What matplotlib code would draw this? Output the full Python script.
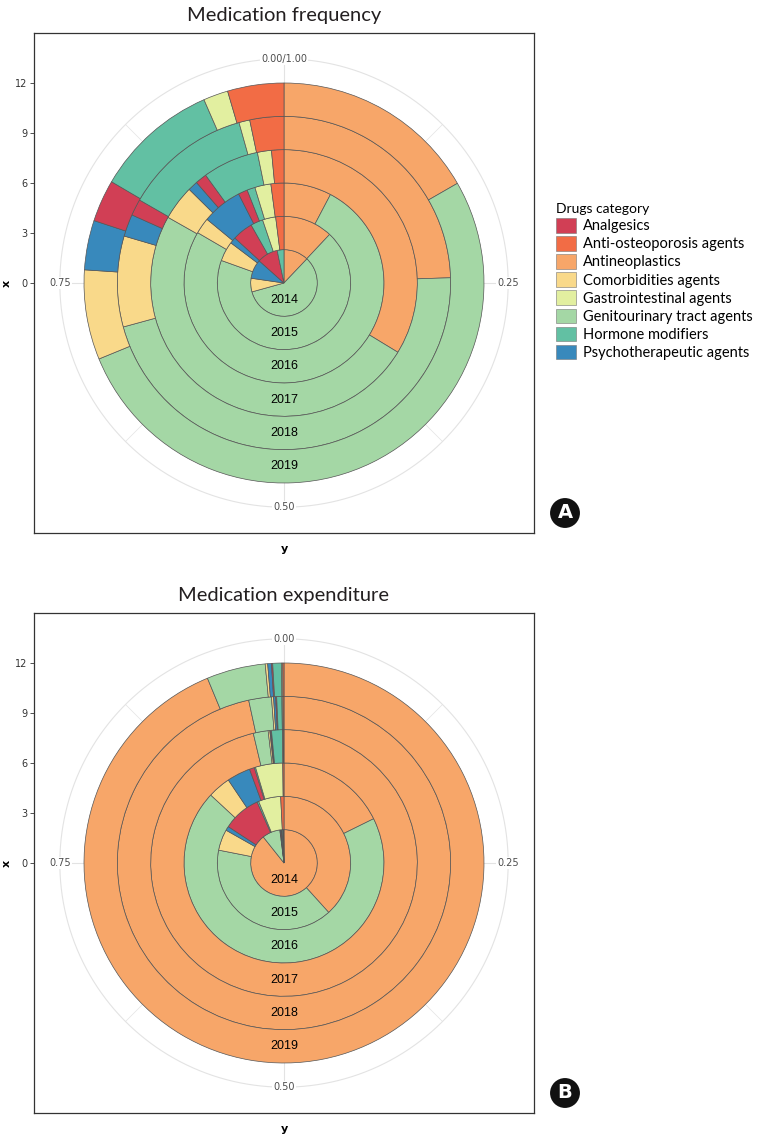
import numpy as np
import matplotlib
matplotlib.use('Agg')
import matplotlib.pyplot as plt
from matplotlib.patches import Patch

# Años (anillos, de dentro hacia fuera)
years = ['2014', '2015', '2016', '2017', '2018', '2019']

# Categorías de la leyenda (orden alfabético)
categories = ['Analgesics', 'Anti-osteoporosis agents', 'Antineoplastics',
              'Comorbidities agents', 'Gastrointestinal agents',
              'Genitourinary tract agents', 'Hormone modifiers',
              'Psychotherapeutic agents']
colors = ['#D13F55', '#F26C45', '#F7A669', '#F9D98A', '#E2EFA0',
          '#A4D7A5', '#62C0A3', '#3889BC']

# Orden de apilado en sentido horario desde arriba
stack_order = ['Antineoplastics', 'Genitourinary tract agents',
               'Comorbidities agents', 'Psychotherapeutic agents',
               'Analgesics', 'Hormone modifiers', 'Gastrointestinal agents',
               'Anti-osteoporosis agents']

# Proporciones por año - frecuencia (panel A)
freq_antineoplastics = [0.121, 0.120, 0.077, 0.337, 0.245, 0.167]
freq_genitourinary = [0.586, 0.685, 0.757, 0.495, 0.4625, 0.521]
freq_comorbidities = [0.066, 0.048, 0.026, 0.042, 0.088, 0.0725]
freq_psychotherapeutic = [0.093, 0.015, 0.065, 0.012, 0.0215, 0.040]
freq_analgesics = [0.101, 0.050, 0.015, 0.014, 0.016, 0.034]
freq_hormone = [0.033, 0.030, 0.013, 0.068, 0.1235, 0.100]
freq_gastro = [0.0, 0.032, 0.026, 0.017, 0.0105, 0.020]
freq_antiosteo = [0.0, 0.020, 0.021, 0.015, 0.033, 0.0455]

# Proporciones por año - gasto (panel B)
exp_antineoplastics = [0.893, 0.383, 0.177, 0.963, 0.966, 0.9375]
exp_genitourinary = [0.087, 0.398, 0.692, 0.018, 0.022, 0.0475]
exp_comorbidities = [0.003, 0.051, 0.037, 0.002, 0.002, 0.002]
exp_psychotherapeutic = [0.004, 0.010, 0.038, 0.001, 0.002, 0.003]
exp_analgesics = [0.003, 0.092, 0.008, 0.001, 0.001, 0.001]
exp_hormone = [0.005, 0.004, 0.002, 0.013, 0.005, 0.007]
exp_gastro = [0.003, 0.054, 0.044, 0.001, 0.001, 0.001]
exp_antiosteo = [0.002, 0.008, 0.002, 0.001, 0.001, 0.001]

freq = {'Antineoplastics': freq_antineoplastics,
        'Genitourinary tract agents': freq_genitourinary,
        'Comorbidities agents': freq_comorbidities,
        'Psychotherapeutic agents': freq_psychotherapeutic,
        'Analgesics': freq_analgesics,
        'Hormone modifiers': freq_hormone,
        'Gastrointestinal agents': freq_gastro,
        'Anti-osteoporosis agents': freq_antiosteo}
expend = {'Antineoplastics': exp_antineoplastics,
          'Genitourinary tract agents': exp_genitourinary,
          'Comorbidities agents': exp_comorbidities,
          'Psychotherapeutic agents': exp_psychotherapeutic,
          'Analgesics': exp_analgesics,
          'Hormone modifiers': exp_hormone,
          'Gastrointestinal agents': exp_gastro,
          'Anti-osteoporosis agents': exp_antiosteo}

theta_ticks = [0.0, 0.25, 0.5, 0.75]
r_ticks = [0, 3, 6, 9, 12]

W, H = 770, 1144
fig = plt.figure(figsize=(W / 100, H / 100), dpi=100)
color_of = dict(zip(categories, colors))
grid_col = '#e3e3e3'
R_LIM = 15
R_LAB = 13.45


def px_rect(x0, y0, w, h):
    # rectángulo en píxeles (desde arriba) -> fracción de figura
    return [x0 / W, 1 - (y0 + h) / H, w / W, h / H]


def draw_panel(data, top_y, title, top_label, badge):
    rect = px_rect(34, top_y, 500, 500)

    # Marco cartesiano con el eje "x" (radio) a la izquierda
    frame = fig.add_axes(rect)
    frame.set_xlim(-R_LIM, R_LIM)
    frame.set_ylim(-R_LIM, R_LIM)
    frame.set_xticks([])
    frame.set_yticks(r_ticks)
    frame.tick_params(axis='y', labelsize=7, labelcolor='#333333',
                      length=3, width=0.6, color='#333333', pad=2)
    for s in frame.spines.values():
        s.set_color('#333333')
        s.set_linewidth(0.9)
    frame.set_ylabel('x', fontsize=8, fontweight='bold')
    frame.yaxis.set_label_coords(-0.045, 0.5)
    frame.set_xlabel('y', fontsize=8, fontweight='bold', labelpad=8)

    # Ejes polares para los anillos
    ax = fig.add_axes(rect, projection='polar')
    ax.set_theta_zero_location('N')
    ax.set_theta_direction(-1)
    ax.set_ylim(0, R_LIM)
    ax.patch.set_alpha(0)
    ax.grid(False)
    ax.set_xticks([])
    ax.set_yticks([])
    ax.spines['polar'].set_visible(False)

    # Rejilla estilo ggplot
    tt = np.linspace(0, 2 * np.pi, 400)
    ax.plot(tt, np.full_like(tt, R_LAB), color=grid_col, lw=0.8, zorder=0)
    for t in np.arange(0, 1, 0.125):
        lw = 0.8 if t in theta_ticks else 0.5
        ax.plot([t * 2 * np.pi] * 2, [0, R_LAB], color=grid_col, lw=lw, zorder=0)

    # Barras apiladas por año
    for i, yr in enumerate(years):
        start = 0.0
        for cat in stack_order:
            share = data[cat][i]
            if share > 0:
                ax.bar(start * 2 * np.pi, 2, width=share * 2 * np.pi,
                       bottom=2 * i, align='edge', color=color_of[cat],
                       edgecolor='#555555', linewidth=0.5, zorder=2)
            start += share
        ax.text(np.pi, 2 * i + 1, yr, ha='center', va='center',
                fontsize=9, family='Liberation Sans', color='black', zorder=5)

    # Etiquetas de theta
    labels = [top_label, '0.25', '0.50', '0.75']
    for t, lab in zip(theta_ticks, labels):
        ax.text(t * 2 * np.pi, R_LAB, lab, ha='center', va='center',
                fontsize=7, color='#4d4d4d', zorder=4,
                bbox=dict(boxstyle='square,pad=0.15', fc='white', ec='none'))

    fig.text(284 / W, 1 - (top_y - 17) / H, title, ha='center', va='center',
             fontsize=14.5, family='Lato', color='#231f20')
    fig.text(565 / W, 1 - (top_y + 480) / H, badge, ha='center', va='center',
             fontsize=14, fontweight='bold', color='white',
             bbox=dict(boxstyle='circle,pad=0.28', fc='#111111', ec='none'))


draw_panel(freq, 33, 'Medication frequency', '0.00/1.00', 'A')
draw_panel(expend, 613, 'Medication expenditure', '0.00', 'B')

# Leyenda común
handles = [Patch(facecolor=c, edgecolor='#777777', linewidth=0.4) for c in colors]
leg = fig.legend(handles, categories, loc='upper left',
                 bbox_to_anchor=(546 / W, 1 - 193 / H), frameon=False,
                 title='Drugs category', alignment='left',
                 prop={'family': 'Lato', 'size': 10.5},
                 title_fontproperties={'family': 'Lato', 'size': 10},
                 handlelength=1.35, handleheight=1.15, handletextpad=0.5,
                 labelspacing=0.2, borderpad=0.2)

plt.savefig('out.png', dpi=100)
